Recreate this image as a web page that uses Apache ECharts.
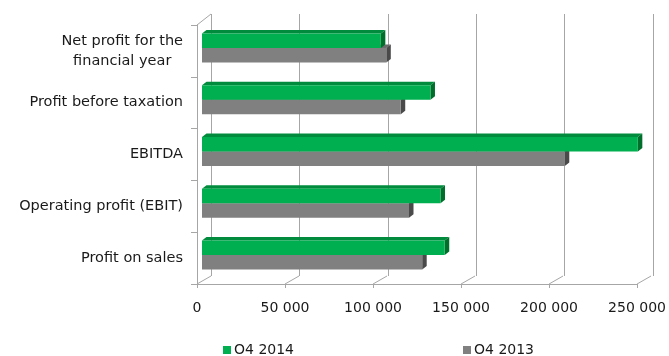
<!DOCTYPE html>
<html>
<head>
<meta charset="utf-8">
<script src="https://cdn.jsdelivr.net/npm/echarts@6/dist/echarts.min.js"></script>
<style>
  html, body { margin: 0; padding: 0; background: #ffffff; }
  #chart { width: 669px; height: 356px; }
</style>
</head>
<body>
<div id="chart"></div>
<script>
// ---- data ----
const categories = [
  'Net profit for the\nfinancial year',
  'Profit before taxation',
  'EBITDA',
  'Operating profit (EBIT)',
  'Profit on sales'
];
const seriesNames = ['O4 2014', 'O4 2013'];
const values2014 = [101600, 129800, 247600, 135500, 137900];
const values2013 = [104700, 112900, 206100, 117600, 125100];
const xTicks = [0, 50000, 100000, 150000, 200000, 250000];

// ---- styling / layout ----
const FONT = 'DejaVu Sans';
const TEXT_COLOR = '#1a1a1a';
const LINE_COLOR = '#a6a6a6';
const FRONT = { left: 197, top: 25, width: 442, height: 259 };
const WALL_DX = 14;           // horizontal depth of the chart box
const FLOOR_DY = 8;           // vertical depth at the floor
const TOP_DY = 11;            // vertical depth at the top of the side wall
const BACK = { left: FRONT.left + WALL_DX, top: 14, width: FRONT.width, height: 262 };
const BAR_SHIFT_X = 5, BAR_SHIFT_Y = 3;   // bar front face sits inside the box
const BAR_DEPTH_X = 4.5, BAR_DEPTH_Y = 3.5;
const BAR_RATIO = 0.28;

const COLORS = {
  green: { front: '#00b050', top: '#008c3c', side: '#006f2c' },
  gray:  { front: '#808080', top: '#6b6b6b', side: '#4a4a4a' }
};

const fmt = v => String(v).replace(/\B(?=(\d{3})+(?!\d))/g, ' ');

function barRenderer(colors, above) {
  return function (params, api) {
    const cat = api.value(1);
    const start = api.coord([0, cat]);
    const end = api.coord([api.value(0), cat]);
    const bw = api.size([0, 1])[1] * BAR_RATIO;
    const x0 = start[0] + BAR_SHIFT_X;
    const x1 = end[0] + BAR_SHIFT_X;
    const mid = start[1] - BAR_SHIFT_Y;
    const yT = above ? mid - bw : mid;
    const yB = yT + bw;
    const dx = BAR_DEPTH_X, dy = BAR_DEPTH_Y;
    return {
      type: 'group',
      children: [
        { type: 'polygon', shape: { points: [[x0, yT], [x1, yT], [x1 + dx, yT - dy], [x0 + dx, yT - dy]] },
          style: { fill: colors.top } },
        { type: 'polygon', shape: { points: [[x1, yT], [x1 + dx, yT - dy], [x1 + dx, yB - dy], [x1, yB]] },
          style: { fill: colors.side } },
        { type: 'rect', shape: { x: x0, y: yT, width: x1 - x0, height: bw },
          style: { fill: colors.front } }
      ]
    };
  };
}

// floor diagonals from each tick back to the wall, and the top edge of the side wall
function frameRenderer(params, api) {
  const v = api.value(0);
  const band = api.size([0, 1])[1];
  const bottom = api.coord([v, categories.length - 1]);
  const yb = bottom[1] + band / 2;
  const children = [{
    type: 'line',
    shape: { x1: bottom[0], y1: yb, x2: bottom[0] + WALL_DX, y2: yb - FLOOR_DY },
    style: { stroke: LINE_COLOR, lineWidth: 1 }
  }];
  if (v === 0) {
    const top = api.coord([0, 0]);
    const yt = top[1] - band / 2;
    children.push({
      type: 'line',
      shape: { x1: top[0], y1: yt, x2: top[0] + WALL_DX, y2: yt - TOP_DY },
      style: { stroke: LINE_COLOR, lineWidth: 1 }
    });
  }
  return { type: 'group', children };
}

const chart = echarts.init(document.getElementById('chart'), null, { renderer: 'canvas' });

chart.setOption({
  animation: false,
  backgroundColor: '#ffffff',
  legend: {
    data: seriesNames,
    left: 223,
    top: 342,
    padding: 0,
    icon: 'rect',
    itemWidth: 8,
    itemHeight: 8,
    itemGap: 169,
    textStyle: { fontFamily: FONT, fontSize: 14, color: TEXT_COLOR, lineHeight: 16, padding: [0, 0, 0, -2] }
  },
  grid: [
    { left: FRONT.left, top: FRONT.top, width: FRONT.width, height: FRONT.height, containLabel: false },
    { left: BACK.left, top: BACK.top, width: BACK.width, height: BACK.height, containLabel: false }
  ],
  xAxis: [
    {
      gridIndex: 0, type: 'value', min: 0, max: 250000, interval: 50000,
      axisLine: { show: true, lineStyle: { color: LINE_COLOR, width: 1 } },
      axisTick: { show: true, length: 4, lineStyle: { color: LINE_COLOR } },
      splitLine: { show: false },
      axisLabel: { formatter: fmt, margin: 17, fontFamily: FONT, fontSize: 14, color: TEXT_COLOR }
    },
    {
      gridIndex: 1, type: 'value', min: 0, max: 250000, interval: 50000,
      axisLine: { show: false }, axisTick: { show: false }, axisLabel: { show: false },
      splitLine: { show: true, lineStyle: { color: LINE_COLOR, width: 1 } }
    }
  ],
  yAxis: [
    {
      gridIndex: 0, type: 'category', data: categories, inverse: true,
      axisLine: { show: true, lineStyle: { color: LINE_COLOR, width: 1 } },
      axisTick: { show: true, length: 6, lineStyle: { color: LINE_COLOR } },
      splitLine: { show: false },
      axisLabel: {
        margin: 14,
        formatter: v => v.split('\n').map(s => '{c|' + s + '}').join('\n'),
        rich: { c: { align: 'center', fontFamily: FONT, fontSize: 14.5, color: TEXT_COLOR, lineHeight: 20 } }
      }
    },
    {
      gridIndex: 1, type: 'category', data: categories, inverse: true, show: false
    }
  ],
  series: [
    {
      name: 'frame', type: 'custom', xAxisIndex: 0, yAxisIndex: 0, silent: true, z: 1,
      renderItem: frameRenderer,
      data: xTicks.map(v => [v, 0])
    },
    {
      name: seriesNames[1], type: 'custom', xAxisIndex: 0, yAxisIndex: 0, z: 2,
      itemStyle: { color: COLORS.gray.front },
      renderItem: barRenderer(COLORS.gray, false),
      encode: { x: 0, y: 1 },
      data: values2013.map((v, i) => [v, i])
    },
    {
      name: seriesNames[0], type: 'custom', xAxisIndex: 0, yAxisIndex: 0, z: 3,
      itemStyle: { color: COLORS.green.front },
      renderItem: barRenderer(COLORS.green, true),
      encode: { x: 0, y: 1 },
      data: values2014.map((v, i) => [v, i])
    }
  ]
});
</script>
</body>
</html>
